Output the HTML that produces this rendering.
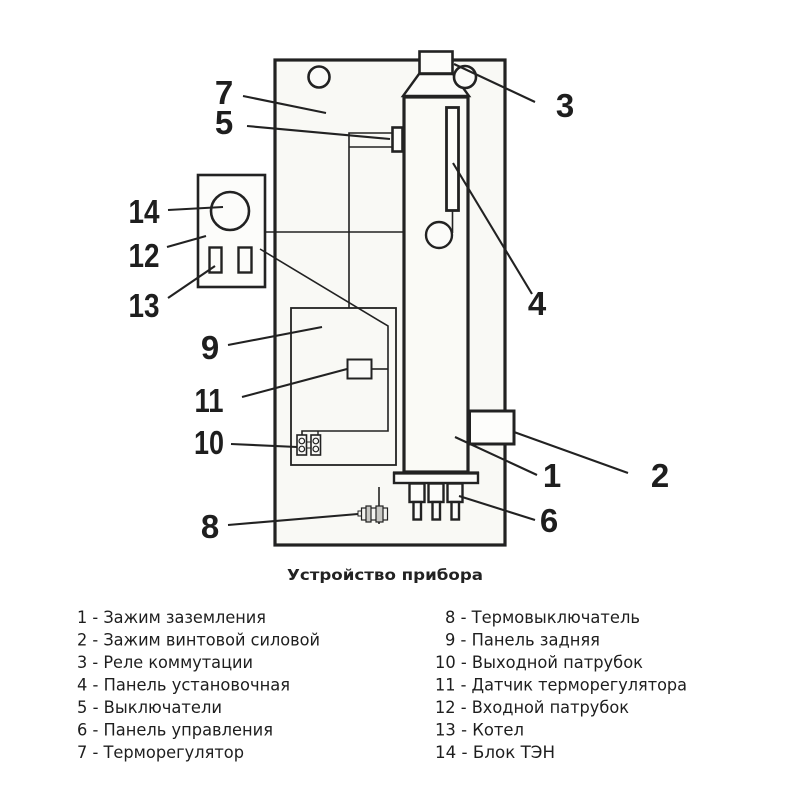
<!DOCTYPE html>
<html><head><meta charset="utf-8">
<style>
html,body{margin:0;padding:0;background:#fff;}
svg{display:block;}
.n{font-family:"Liberation Sans",Arial,sans-serif;font-weight:bold;font-size:33px;fill:#1e1e1e;text-anchor:middle;}
.lg{font-family:"DejaVu Sans","Liberation Sans",sans-serif;font-size:16.5px;fill:#1e1e1e;}
</style></head>
<body>
<svg width="800" height="800" viewBox="0 0 800 800" xmlns="http://www.w3.org/2000/svg">
<rect width="800" height="800" fill="#fff"/>
<g stroke="#222" fill="none" stroke-linejoin="miter">
  <!-- main housing -->
  <rect x="275" y="60" width="230" height="485" fill="#f9f9f5" stroke-width="3.2"/>
  <!-- top-left circle -->
  <circle cx="319" cy="77" r="10.5" fill="#fbfbf9" stroke-width="2.6"/>
  <!-- panel 12 -->
  <rect x="198" y="175" width="67" height="112" fill="#fcfcfa" stroke-width="2.6"/>
  <circle cx="230" cy="211" r="19" fill="#fcfcfa" stroke-width="2.6"/>
  <rect x="209.5" y="247.5" width="12" height="25" stroke-width="2.4"/>
  <rect x="238.5" y="247.5" width="13" height="25" stroke-width="2.4"/>
  <!-- wires -->
  <line x1="265" y1="232" x2="426" y2="232" stroke-width="1.6"/>
  <polyline points="260,249 388,326 388,431 302,431 302,436" stroke-width="1.6"/>
  <line x1="318" y1="431" x2="318" y2="436" stroke-width="1.4"/>
  <polyline points="392,133 349,133 349,308" stroke-width="1.6"/>
  <line x1="349" y1="147" x2="392" y2="147" stroke-width="1.6"/>
  <!-- panel 9 -->
  <rect x="291" y="308" width="105" height="157" stroke-width="1.8"/>
  <!-- sensor 11 -->
  <rect x="347.5" y="359.5" width="24" height="19" fill="#fafaf8" stroke-width="2"/>
  <line x1="372" y1="369" x2="388" y2="369" stroke-width="1.6"/>
  <!-- terminal block 10 -->
  <rect x="297" y="435" width="9.5" height="20" fill="#fafaf8" stroke-width="1.6"/>
  <rect x="311" y="435" width="9.5" height="20" fill="#fafaf8" stroke-width="1.6"/>
  <circle cx="301.8" cy="441" r="2.8" stroke-width="1.2"/>
  <circle cx="301.8" cy="449" r="2.8" stroke-width="1.2"/>
  <circle cx="315.8" cy="441" r="2.8" stroke-width="1.2"/>
  <circle cx="315.8" cy="449" r="2.8" stroke-width="1.2"/>
  <rect x="306.5" y="442" width="4.5" height="6" stroke-width="1"/>
  <!-- cylinder -->
  <polygon points="419,74 453,74 469,96 403,96" fill="#fbfbf9" stroke-width="2.4"/>
  <rect x="419.5" y="51.5" width="33" height="22" fill="#fcfcfa" stroke-width="2.6"/>
  <rect x="404" y="97" width="64" height="375" fill="#fafaf6" stroke-width="3.2"/>
  <!-- relay circle 3 -->
  <circle cx="465" cy="77" r="11" fill="#fbfbf9" stroke-width="2.6"/>
  <!-- panel 4 -->
  <rect x="446.5" y="107.5" width="12" height="103" fill="#fcfcfa" stroke-width="2.8"/>
  <line x1="452.5" y1="211" x2="452.5" y2="233" stroke-width="1.6"/>
  <circle cx="439" cy="235" r="13" fill="#fbfbf9" stroke-width="2.4"/>
  <!-- switch 5 -->
  <rect x="392.5" y="127.5" width="10" height="24" fill="#fcfcfa" stroke-width="2.6"/>
  <!-- box 2 -->
  <rect x="469.5" y="411" width="44.5" height="33" fill="#fdfdfb" stroke-width="3"/>
  <!-- flange -->
  <rect x="394" y="473" width="84" height="10" fill="#fcfcfa" stroke-width="2.4"/>
  <line x1="393" y1="473" x2="479" y2="473" stroke-width="3.2"/>
  <!-- nozzles -->
  <rect x="409.5" y="483.5" width="15" height="18.5" fill="#fcfcfa" stroke-width="2.4"/>
  <rect x="428.5" y="483.5" width="15" height="18.5" fill="#fcfcfa" stroke-width="2.4"/>
  <rect x="447.5" y="483.5" width="15" height="18.5" fill="#fcfcfa" stroke-width="2.4"/>
  <rect x="413.5" y="502" width="7.5" height="17.5" fill="#fcfcfa" stroke-width="2.4"/>
  <rect x="432.5" y="502" width="7.5" height="17.5" fill="#fcfcfa" stroke-width="2.4"/>
  <rect x="451.5" y="502" width="7.5" height="17.5" fill="#fcfcfa" stroke-width="2.4"/>
  <!-- thermoswitch 8 -->
  <line x1="379" y1="487" x2="379" y2="524" stroke-width="1.6"/>
  <rect x="358" y="511" width="3.5" height="5" stroke-width="1"/>
  <rect x="361.5" y="508" width="26" height="12" fill="#f3f3f0" stroke-width="1.2"/>
  <rect x="366" y="506" width="5" height="16" fill="#c8c8c4" stroke-width="1.2"/>
  <rect x="376" y="506" width="7" height="16" fill="#c8c8c4" stroke-width="1.2"/>
</g>
<!-- leader lines -->
<g stroke="#222" stroke-width="2.1" fill="none">
  <line x1="243" y1="96" x2="326" y2="113"/>
  <line x1="247" y1="126" x2="390" y2="139"/>
  <line x1="454" y1="64" x2="535" y2="102"/>
  <line x1="453" y1="163" x2="532" y2="294"/>
  <line x1="168" y1="210" x2="223" y2="207"/>
  <line x1="167" y1="247" x2="206" y2="236"/>
  <line x1="168" y1="298" x2="215" y2="266"/>
  <line x1="228" y1="345" x2="322" y2="327"/>
  <line x1="242" y1="397" x2="347" y2="369"/>
  <line x1="231" y1="444" x2="297" y2="447"/>
  <line x1="228" y1="525" x2="358" y2="514"/>
  <line x1="455" y1="437" x2="537" y2="475"/>
  <line x1="514" y1="432" x2="628" y2="473"/>
  <line x1="459" y1="496" x2="535" y2="520"/>
</g>
<!-- big labels -->
<text class="n" x="224" y="104">7</text>
<text class="n" x="224" y="134">5</text>
<text class="n" x="565" y="117">3</text>
<text class="n" x="537" y="315">4</text>
<text class="n" x="144" y="223" textLength="31" lengthAdjust="spacingAndGlyphs">14</text>
<text class="n" x="144" y="267" textLength="31" lengthAdjust="spacingAndGlyphs">12</text>
<text class="n" x="144" y="317" textLength="31" lengthAdjust="spacingAndGlyphs">13</text>
<text class="n" x="210" y="359">9</text>
<text class="n" x="209" y="412" textLength="29" lengthAdjust="spacingAndGlyphs">11</text>
<text class="n" x="209" y="454" textLength="30" lengthAdjust="spacingAndGlyphs">10</text>
<text class="n" x="210" y="538">8</text>
<text class="n" x="552" y="487">1</text>
<text class="n" x="660" y="487">2</text>
<text class="n" x="549" y="532">6</text>
<!-- title -->
<text x="287" y="580" font-family="DejaVu Sans, Liberation Sans, sans-serif" font-weight="bold" font-size="15.5" fill="#222" textLength="196" lengthAdjust="spacingAndGlyphs">Устройство прибора</text>
<!-- legend col 1 -->
<text class="lg" x="77" y="623" textLength="189" lengthAdjust="spacingAndGlyphs">1 - Зажим заземления</text>
<text class="lg" x="77" y="645.5" textLength="243" lengthAdjust="spacingAndGlyphs">2 - Зажим винтовой силовой</text>
<text class="lg" x="77" y="668" textLength="176" lengthAdjust="spacingAndGlyphs">3 - Реле коммутации</text>
<text class="lg" x="77" y="690.5" textLength="213" lengthAdjust="spacingAndGlyphs">4 - Панель установочная</text>
<text class="lg" x="77" y="713" textLength="145" lengthAdjust="spacingAndGlyphs">5 - Выключатели</text>
<text class="lg" x="77" y="735.5" textLength="196" lengthAdjust="spacingAndGlyphs">6 - Панель управления</text>
<text class="lg" x="77" y="758" textLength="167" lengthAdjust="spacingAndGlyphs">7 - Терморегулятор</text>
<!-- legend col 2 -->
<text class="lg" x="445" y="623" textLength="195" lengthAdjust="spacingAndGlyphs">8 - Термовыключатель</text>
<text class="lg" x="445" y="645.5" textLength="155" lengthAdjust="spacingAndGlyphs">9 - Панель задняя</text>
<text class="lg" x="435" y="668" textLength="208" lengthAdjust="spacingAndGlyphs">10 - Выходной патрубок</text>
<text class="lg" x="435" y="690.5" textLength="252" lengthAdjust="spacingAndGlyphs">11 - Датчик терморегулятора</text>
<text class="lg" x="435" y="713" textLength="194" lengthAdjust="spacingAndGlyphs">12 - Входной патрубок</text>
<text class="lg" x="435" y="735.5" textLength="89" lengthAdjust="spacingAndGlyphs">13 - Котел</text>
<text class="lg" x="435" y="758" textLength="120" lengthAdjust="spacingAndGlyphs">14 - Блок ТЭН</text>
</svg>
</body></html>
